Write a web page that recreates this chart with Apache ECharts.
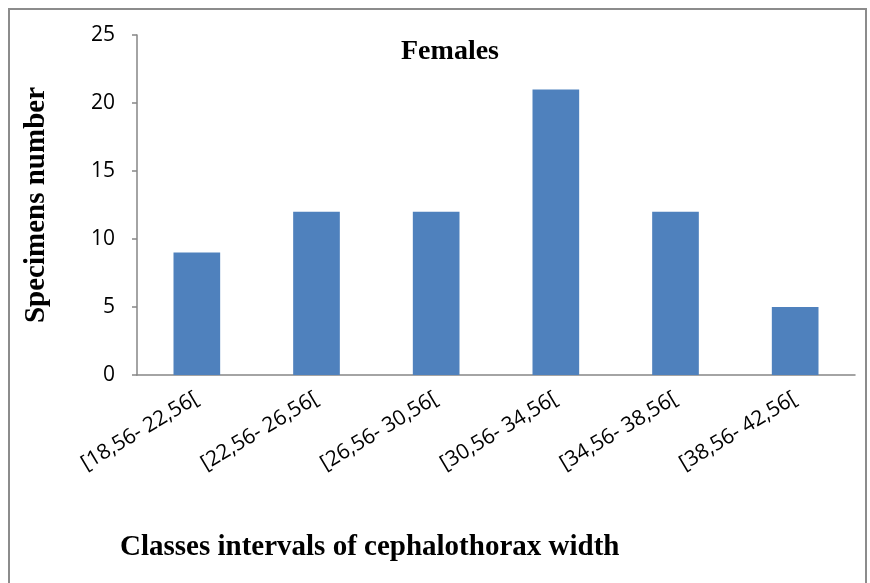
<!DOCTYPE html>
<html>
<head>
<meta charset="utf-8">
<script src="https://cdn.jsdelivr.net/npm/echarts@6/dist/echarts.min.js"></script>
<style>
  html, body { margin: 0; padding: 0; background: #fff; }
  #chart { width: 870px; height: 583px; }
</style>
</head>
<body>
<div id="chart"></div>
<script>
var categories = ['[18,56- 22,56[', '[22,56- 26,56[', '[26,56- 30,56[', '[30,56- 34,56[', '[34,56- 38,56[', '[38,56- 42,56[']
var specimens = [9, 12, 12, 21, 12, 5]

var myChart = echarts.init(document.getElementById('chart'))
myChart.setOption({
  backgroundColor: '#fff',
  animation: false,
  graphic: [
    {
      type: 'rect',
      shape: { x: 9, y: 9, width: 857, height: 590 },
      style: { fill: 'none', stroke: '#8c8c8c', lineWidth: 2 }
    },
    {
      type: 'text',
      left: 120,
      top: 533,
      style: {
        text: 'Classes intervals of cephalothorax width',
        font: 'bold 29px "Liberation Serif"',
        fill: '#000'
      }
    }
  ],
  title: {
    text: 'Females',
    left: 445,
    top: 33,
    textAlign: 'center',
    textStyle: {
      fontFamily: 'Liberation Serif',
      fontWeight: 'bold',
      fontSize: 28,
      color: '#000'
    }
  },
  grid: {
    left: 137,
    right: 15,
    top: 35,
    bottom: 208,
    containLabel: false,
    outerBoundsMode: 'none'
  },
  xAxis: {
    type: 'category',
    data: categories,
    axisLine: { lineStyle: { color: '#868686', width: 1.5 } },
    axisTick: { length: 6, lineStyle: { color: '#868686', width: 1.5 } },
    axisLabel: {
      rotate: 31,
      margin: 22,
      fontFamily: 'Open Sans',
      fontSize: 21,
      color: '#000'
    }
  },
  yAxis: {
    type: 'value',
    min: 0,
    max: 25,
    interval: 5,
    name: 'Specimens number',
    nameLocation: 'middle',
    nameGap: 86,
    nameTextStyle: {
      fontFamily: 'Liberation Serif',
      fontWeight: 'bold',
      fontSize: 29,
      color: '#000'
    },
    axisLine: { show: true, lineStyle: { color: '#868686', width: 1.5 } },
    axisTick: { show: true, length: 5, lineStyle: { color: '#868686', width: 1.5 } },
    splitLine: { show: false },
    axisLabel: {
      margin: 22,
      fontFamily: 'Open Sans',
      fontSize: 21,
      color: '#000'
    }
  },
  series: [
    {
      name: 'Females',
      type: 'bar',
      data: specimens,
      barWidth: '39%',
      itemStyle: { color: '#4f81bd' }
    }
  ]
})
</script>
</body>
</html>
